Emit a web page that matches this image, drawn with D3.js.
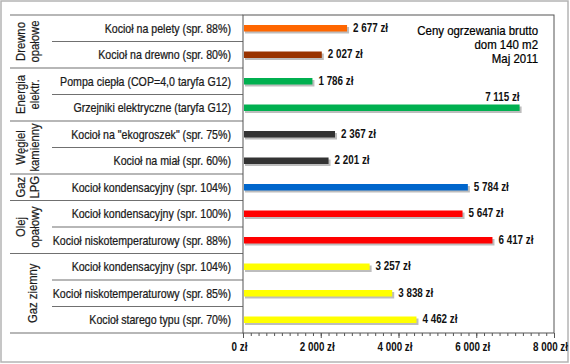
<!DOCTYPE html>
<html>
<head>
<meta charset="utf-8">
<script src="https://cdn.jsdelivr.net/npm/d3@7"></script>
<style>
  body { margin: 0; background: #fff; }
  text { font-family: "Liberation Sans", Arial, sans-serif; }
</style>
</head>
<body>
<svg id="chart"></svg>
<script>
const labels = [
    "Kocioł na pelety (spr. 88%)",
    "Kocioł na drewno (spr. 80%)",
    "Pompa ciepła (COP=4,0 taryfa G12)",
    "Grzejniki elektryczne (taryfa G12)",
    "Kocioł na \"ekogroszek\" (spr. 75%)",
    "Kocioł na miał (spr. 60%)",
    "Kocioł kondensacyjny (spr. 104%)",
    "Kocioł kondensacyjny (spr. 100%)",
    "Kocioł niskotemperaturowy (spr. 88%)",
    "Kocioł kondensacyjny (spr. 104%)",
    "Kocioł niskotemperaturowy (spr. 85%)",
    "Kocioł starego typu (spr. 70%)"
];
const values = [2677, 2027, 1786, 7115, 2367, 2201, 5784, 5647, 6417, 3257, 3838, 4462];
const colors = ["#ff6600", "#993300", "#00b050", "#00b050", "#333333", "#333333",
    "#0066cc", "#ff0000", "#ff0000", "#ffff00", "#ffff00", "#ffff00"];
const groupNames = [["Drewno", "opałowe"], ["Energia", "elektr."], ["Węgiel", "kamienny"],
    ["Gaz", "LPG"], ["Olej", "opałowy"], ["Gaz ziemny"]];
const groupSizes = [2, 2, 2, 1, 2, 3];
const majorTicks = [0, 2000, 4000, 6000, 8000];
const note = ["Ceny ogrzewania brutto", "dom 140 m2", "Maj 2011"];

const W = 570, H = 364;
const plot = {left: 243, right: 554, top: 15, bottom: 333};

const pl = d3.formatLocale({decimal: ",", thousands: " ", grouping: [3], currency: ["", " zł"]});
const fmt = pl.format("$,.0f");

// squeeze text horizontally (no narrow font installed)
const narrow = (sel, s) => sel
    .attr("transform", function () {
        const t = d3.select(this);
        return `translate(${t.attr("x") || 0},${t.attr("y") || 0}) scale(${s},1)`;
    })
    .attr("x", 0)
    .attr("y", 0);

const svg = d3.select("#chart")
    .attr("width", W)
    .attr("height", H)
    .attr("viewBox", [0, 0, W, H]);

// outer frame
svg.append("rect")
    .attr("x", 1).attr("y", 1)
    .attr("width", W - 3).attr("height", H - 3)
    .style("fill", "#fff")
    .style("stroke", "#b4b4b4")
    .style("stroke-width", 1.5);

const x = d3.scaleLinear()
    .domain([0, 8000])
    .range([plot.left, plot.right]);

const y = d3.scaleBand()
    .domain(d3.range(labels.length))
    .range([plot.top, plot.bottom]);

// table lines on the left
const groupStart = d3.cumsum([0, ...groupSizes]).slice(0, -1);
const g = svg.append("g");
d3.range(labels.length + 1).forEach(i => {
    const isGroup = i === labels.length || groupStart.includes(i);
    const yy = i === labels.length ? plot.bottom : y(i);
    g.append("line")
        .attr("x1", isGroup ? 10 : 52)
        .attr("x2", plot.left)
        .attr("y1", yy).attr("y2", yy)
        .style("stroke", "#707070")
        .style("stroke-width", 1.2);
});

// category labels
g.selectAll("text.cat")
    .data(labels)
    .join("text")
    .attr("class", "cat")
    .attr("x", 231)
    .attr("y", (d, i) => y(i) + y.bandwidth() / 2)
    .attr("dy", ".36em")
    .attr("text-anchor", "end")
    .style("font-size", "12.5px")
    .style("fill", "#1a1a1a")
    .style("stroke", "#1a1a1a")
    .style("stroke-width", 0.25)
    .text(d => d)
    .call(narrow, 0.85);

// group labels (rotated)
groupNames.forEach((lines, gi) => {
    const y0 = y(groupStart[gi]);
    const y1 = y0 + groupSizes[gi] * y.bandwidth();
    const cy = (y0 + y1) / 2;
    lines.forEach((t, li) => {
        const cx = lines.length === 1 ? 33 : 21 + li * 14;
        g.append("text")
            .attr("transform", `translate(${cx},${cy}) rotate(-90) scale(0.94,1)`)
            .attr("text-anchor", "middle")
            .attr("dy", ".36em")
            .style("font-size", "12px")
            .style("fill", "#1a1a1a")
            .style("stroke", "#1a1a1a")
            .style("stroke-width", 0.2)
            .text(t);
    });
});

// plot box
svg.append("rect")
    .attr("x", plot.left).attr("y", plot.top)
    .attr("width", plot.right - plot.left)
    .attr("height", plot.bottom - plot.top)
    .style("fill", "none")
    .style("stroke", "#555")
    .style("stroke-width", 1);

// axis ticks
const minor = svg.append("g")
    .attr("transform", `translate(0,${plot.bottom})`)
    .call(d3.axisBottom(x).tickValues(d3.range(0, 8001, 200)).tickSize(3).tickFormat(""));
minor.select(".domain").remove();
minor.selectAll("line").style("stroke", "#555");

const major = svg.append("g")
    .attr("transform", `translate(0,${plot.bottom})`)
    .call(d3.axisBottom(x).tickValues(majorTicks).tickSize(5).tickFormat(fmt));
major.select(".domain").remove();
major.selectAll("line").style("stroke", "#555");
major.selectAll("text")
    .attr("x", -4)
    .attr("y", 14)
    .attr("dy", ".36em")
    .style("font-size", "12px")
    .style("font-weight", "bold")
    .style("fill", "#111")
    .call(narrow, 0.82);

// bars
const bh = 6.5;
const bars = svg.append("g");
bars.selectAll("rect.shadow")
    .data(values)
    .join("rect")
    .attr("class", "shadow")
    .attr("x", x(0) + 2)
    .attr("y", (d, i) => y(i) + y.bandwidth() / 2 - bh / 2 + 2)
    .attr("width", d => x(d) - x(0))
    .attr("height", bh)
    .style("fill", "#bdbdbd");

bars.selectAll("rect.bar")
    .data(values)
    .join("rect")
    .attr("class", "bar")
    .attr("x", x(0) + 1)
    .attr("y", (d, i) => y(i) + y.bandwidth() / 2 - bh / 2)
    .attr("width", d => x(d) - x(0) - 1)
    .attr("height", bh)
    .style("fill", (d, i) => colors[i]);

// value labels
bars.selectAll("text.val")
    .data(values)
    .join("text")
    .attr("class", "val")
    .attr("x", d => d > 7000 ? x(d) : x(d) + 6)
    .attr("y", (d, i) => y(i) + y.bandwidth() / 2 + (d > 7000 ? -11 : -1))
    .attr("dy", ".36em")
    .attr("text-anchor", d => d > 7000 ? "end" : "start")
    .style("font-size", "12px")
    .style("font-weight", "bold")
    .style("fill", "#111")
    .text(d => fmt(d))
    .call(narrow, 0.82);

// note
svg.append("g")
    .selectAll("text")
    .data(note)
    .join("text")
    .attr("x", 538)
    .attr("y", (d, i) => 30 + i * 14)
    .attr("dy", ".36em")
    .attr("text-anchor", "end")
    .style("font-size", "13px")
    .style("fill", "#000")
    .style("stroke", "#000")
    .style("stroke-width", 0.25)
    .text(d => d)
    .call(narrow, 0.88);
</script>
</body>
</html>
